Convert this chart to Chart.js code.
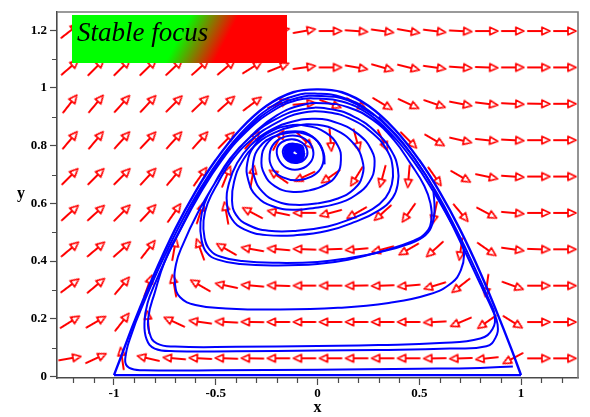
<!DOCTYPE html>
<html>
<head>
<meta charset="utf-8">
<title>Stable focus</title>
<script src="https://cdn.jsdelivr.net/npm/chart.js@4/dist/chart.umd.min.js"></script>
<style>
  html, body { margin: 0; padding: 0; background: #ffffff; }
  canvas { display: block; }
</style>
</head>
<body>
<canvas id="phase" width="590" height="417"></canvas>
<script>
// ---------- direction field grid ----------
const fieldX = [-1.216, -1.088, -0.96, -0.832, -0.704, -0.576, -0.448, -0.32, -0.192, -0.064,
                 0.064, 0.192, 0.32, 0.448, 0.576, 0.704, 0.832, 0.96, 1.088, 1.216];
const fieldY = [0.063, 0.189, 0.315, 0.441, 0.567, 0.693, 0.819, 0.945, 1.071, 1.197];

// arrow directions in degrees (0 = right, 90 = up), one row per fieldY value
const fieldAngles = [
  [10, 25, 98, 167, 175, 177, 178, 179, 180, 180, 180, 180, 180, 180, 181, 182, 186, 208, 0, 0],
  [32, 30, 52, 95, 155, 172, 177, 179, 180, 180, 180, 180, 180, 180, 183, 203, 215, -32, 0, 0],
  [37, 40, 50, 70, 100, 150, 168, 175, 178, 180, 180, 181, 182, 185, 197, 218, 262, -20, 0, 0],
  [40, 40, 42, 52, 80, 110, 150, 170, 175, 178, 182, 185, 195, 210, 222, 262, -35, -8, -2, 0],
  [42, 42, 45, 47, 55, 72, 100, 152, 168, 180, 195, 210, 222, 235, 258, -50, -28, -5, 0, 0],
  [45, 45, 45, 47, 50, 55, 68, 80, 145, 205, 215, 238, 255, 265, -55, -30, -12, -4, 0, 0],
  [50, 50, 48, 47, 48, 48, 46, 50, 62, -45, -85, -75, -65, -45, -30, -13, -6, -3, 0, 0],
  [52, 50, 48, 47, 45, 44, 42, 37, 22, 5, -20, -30, -31, -25, -19, -11, -7, -3, -1, 0],
  [41, 45, 45, 44, 43, 42, 40, 32, 22, 8, 0, -10, -16, -14, -8, -4, -2, 0, 0, 0],
  [38, 38, 36, 34, 32, 30, 26, 20, 12, 10, 0, -4, -8, -10, -7, -3, 0, 0, 0, 0]
];

// ---------- trajectories ----------
// bottom edge of the invariant region
const edgeBottom = [[1.0, 0.005], [-1.0, 0.005]];
// arch joining the two saddles
const edgeArch = [
  [-1.0, 0.005], [-0.97, 0.06], [-0.9, 0.19], [-0.816, 0.333], [-0.7, 0.51], [-0.6, 0.64],
  [-0.5, 0.75], [-0.38, 0.856], [-0.25, 0.938], [-0.12, 0.985], [0.0, 0.995], [0.12, 0.985],
  [0.25, 0.938], [0.38, 0.856], [0.5, 0.75], [0.6, 0.64], [0.7, 0.51], [0.8, 0.36],
  [0.884, 0.218], [0.95, 0.1], [1.0, 0.005]
];
// long orbit spiralling into the focus
const orbitMain = [
  [0.96, 0.035], [0.8, 0.03], [0.5, 0.027], [0.0, 0.024], [-0.5, 0.022], [-0.85, 0.022], [-0.925, 0.03], [-0.945, 0.06],
  [-0.91, 0.155], [-0.85, 0.262], [-0.78, 0.375], [-0.68, 0.52], [-0.575, 0.652], [-0.47, 0.763], [-0.35, 0.862],
  [-0.23, 0.933], [-0.11, 0.973], [0.0, 0.98], [0.12, 0.968], [0.25, 0.922], [0.37, 0.846], [0.48, 0.752],
  [0.585, 0.638], [0.685, 0.505], [0.77, 0.38], [0.845, 0.262], [0.87, 0.215],
  [0.86, 0.165], [0.8, 0.132], [0.6, 0.116], [0.3, 0.109], [0.0, 0.106], [-0.4, 0.103], [-0.7, 0.104],
  [-0.79, 0.115], [-0.825, 0.15], [-0.83, 0.21], [-0.8, 0.29],
  [-0.75, 0.4], [-0.68, 0.5], [-0.58, 0.63], [-0.47, 0.75], [-0.35, 0.848], [-0.22, 0.92], [-0.1, 0.958],
  [0.0, 0.963], [0.12, 0.953], [0.25, 0.91], [0.365, 0.838], [0.47, 0.748], [0.57, 0.64], [0.655, 0.535],
  [0.705, 0.47], [0.72, 0.42], [0.705, 0.37], [0.66, 0.325], [0.55, 0.285], [0.35, 0.255], [0.1, 0.238],
  [-0.2, 0.232], [-0.45, 0.236], [-0.6, 0.248], [-0.675, 0.275], [-0.7, 0.32], [-0.695, 0.39], [-0.66, 0.46],
  [-0.59, 0.565], [-0.5, 0.675], [-0.41, 0.77], [-0.31, 0.845], [-0.2, 0.905], [-0.08, 0.94], [0.03, 0.947],
  [0.15, 0.933], [0.27, 0.89], [0.375, 0.82], [0.46, 0.735], [0.525, 0.66],
  [0.555, 0.6], [0.56, 0.545], [0.535, 0.5], [0.47, 0.47], [0.32, 0.435], [0.15, 0.405], [0.0, 0.39],
  [-0.2, 0.385], [-0.38, 0.39], [-0.49, 0.405], [-0.545, 0.43], [-0.57, 0.475], [-0.575, 0.535], [-0.555, 0.6],
  [-0.505, 0.67], [-0.43, 0.755], [-0.33, 0.83], [-0.21, 0.89], [-0.08, 0.925], [0.05, 0.928], [0.18, 0.9],
  [0.29, 0.845], [0.365, 0.78], [0.395, 0.72],
  [0.395, 0.67], [0.37, 0.62], [0.3, 0.575], [0.18, 0.535], [0.05, 0.505], [-0.1, 0.49], [-0.25, 0.49],
  [-0.36, 0.51], [-0.42, 0.545], [-0.445, 0.6], [-0.435, 0.67], [-0.395, 0.74], [-0.33, 0.8], [-0.24, 0.85],
  [-0.13, 0.882], [-0.01, 0.893], [0.1, 0.878], [0.2, 0.84], [0.265, 0.785],
  [0.28, 0.73], [0.255, 0.675], [0.19, 0.63], [0.1, 0.6], [-0.01, 0.585], [-0.12, 0.578], [-0.22, 0.59],
  [-0.3, 0.625], [-0.34, 0.68], [-0.345, 0.74], [-0.31, 0.8], [-0.24, 0.845], [-0.15, 0.868], [-0.05, 0.868],
  [0.04, 0.845], [0.1, 0.8], [0.115, 0.75],
  [0.095, 0.7], [0.04, 0.665], [-0.04, 0.645], [-0.13, 0.64], [-0.21, 0.66], [-0.26, 0.7], [-0.275, 0.755],
  [-0.25, 0.805], [-0.19, 0.838], [-0.11, 0.85], [-0.04, 0.838], [0.01, 0.805], [0.03, 0.76],
  [0.015, 0.72], [-0.03, 0.693], [-0.1, 0.68], [-0.17, 0.69], [-0.22, 0.72], [-0.235, 0.77], [-0.21, 0.81],
  [-0.155, 0.832], [-0.09, 0.832], [-0.04, 0.81], [-0.02, 0.775],
  [-0.035, 0.742], [-0.08, 0.72], [-0.14, 0.72], [-0.185, 0.745], [-0.2, 0.785], [-0.175, 0.812],
  [-0.125, 0.822], [-0.075, 0.81], [-0.05, 0.782],
  [-0.06, 0.755], [-0.1, 0.74], [-0.145, 0.747], [-0.17, 0.775], [-0.155, 0.8], [-0.115, 0.807],
  [-0.08, 0.795], [-0.065, 0.775]
];
// tight turns right at the focus
const focusCore = [
  [-0.065, 0.775], [-0.075, 0.753], [-0.11, 0.745], [-0.145, 0.752], [-0.16, 0.775], [-0.148, 0.797],
  [-0.11, 0.805], [-0.075, 0.797], [-0.07, 0.775], [-0.08, 0.757], [-0.11, 0.751], [-0.14, 0.757],
  [-0.152, 0.775], [-0.14, 0.793], [-0.11, 0.8], [-0.08, 0.793], [-0.076, 0.775], [-0.087, 0.76],
  [-0.11, 0.756], [-0.133, 0.761], [-0.143, 0.775], [-0.133, 0.789], [-0.11, 0.794], [-0.087, 0.789],
  [-0.083, 0.775], [-0.092, 0.764], [-0.11, 0.761], [-0.127, 0.765], [-0.134, 0.775], [-0.127, 0.785],
  [-0.11, 0.789], [-0.093, 0.785], [-0.09, 0.775], [-0.098, 0.767], [-0.11, 0.766], [-0.121, 0.769],
  [-0.125, 0.775], [-0.12, 0.782], [-0.11, 0.784], [-0.1, 0.78], [-0.105, 0.775]
];
// orbit hugging the lower edge
const orbitLow = [
  [0.3, 0.9], [0.42, 0.81], [0.53, 0.7], [0.63, 0.57], [0.72, 0.44], [0.8, 0.32], [0.86, 0.23], [0.885, 0.18],
  [0.875, 0.135], [0.83, 0.105], [0.65, 0.097], [0.3, 0.092], [0.0, 0.09], [-0.4, 0.088], [-0.7, 0.088],
  [-0.8, 0.097], [-0.84, 0.13], [-0.85, 0.19], [-0.835, 0.255], [-0.8, 0.32], [-0.74, 0.415], [-0.66, 0.53],
  [-0.57, 0.65], [-0.46, 0.768], [-0.345, 0.858], [-0.225, 0.926], [-0.1, 0.965], [0.02, 0.972], [0.15, 0.957],
  [0.28, 0.905]
];
// inner orbit
const orbitInner = [
  [0.57, 0.64], [0.575, 0.58], [0.565, 0.53], [0.53, 0.49], [0.45, 0.46], [0.3, 0.43], [0.15, 0.41],
  [0.0, 0.397], [-0.2, 0.394], [-0.37, 0.4], [-0.475, 0.415], [-0.53, 0.44], [-0.555, 0.48], [-0.56, 0.54],
  [-0.54, 0.6], [-0.49, 0.67], [-0.42, 0.75], [-0.32, 0.823], [-0.2, 0.88], [-0.08, 0.913], [0.05, 0.916],
  [0.17, 0.89], [0.275, 0.84], [0.345, 0.78], [0.37, 0.72], [0.365, 0.665], [0.335, 0.62], [0.27, 0.58],
  [0.16, 0.545], [0.05, 0.52], [-0.1, 0.505], [-0.24, 0.505], [-0.34, 0.525], [-0.4, 0.56], [-0.42, 0.61],
  [-0.41, 0.675], [-0.37, 0.745], [-0.3, 0.805], [-0.21, 0.845], [-0.11, 0.868], [0.0, 0.872], [0.1, 0.85],
  [0.18, 0.805], [0.22, 0.75], [0.22, 0.695], [0.18, 0.65], [0.1, 0.617], [0.0, 0.6], [-0.11, 0.595],
  [-0.2, 0.607], [-0.27, 0.64], [-0.31, 0.69], [-0.315, 0.745], [-0.285, 0.795], [-0.22, 0.83], [-0.14, 0.845],
  [-0.06, 0.84], [0.0, 0.815], [0.03, 0.775], [0.035, 0.735]
];

// ---------- axes ----------
const xTickValues = [-1, -0.5, 0, 0.5, 1];
const xTickLabels = ['-1', '-0.5', '0', '0.5', '1'];
const xMinorTicks = [-1.2, -1.1, -0.9, -0.8, -0.7, -0.6, -0.4, -0.3, -0.2, -0.1,
                     0.1, 0.2, 0.3, 0.4, 0.6, 0.7, 0.8, 0.9, 1.1, 1.2];
const yTickValues = [0, 0.2, 0.4, 0.6, 0.8, 1, 1.2];
const yTickLabels = ['0', '0.2', '0.4', '0.6', '0.8', '1', '1.2'];
const yMinorTicks = [0.1, 0.3, 0.5, 0.7, 0.9, 1.1];

const titleText = 'Stable focus';
const axisColor = '#4a4a4a';
const frameColor = '#7a7a7a';
const orbitColor = '#0000ff';
const arrowColor = '#ff0000';

// arrow glyph pointing right, centred on its canvas
function makeArrowGlyph() {
  const c = document.createElement('canvas');
  c.width = 28; c.height = 28;
  const g = c.getContext('2d');
  g.translate(14, 14);
  g.strokeStyle = arrowColor;
  g.lineCap = 'round';
  g.lineWidth = 2;
  g.beginPath(); g.moveTo(-11, 0); g.lineTo(3, 0); g.stroke();
  g.beginPath(); g.moveTo(11, 0); g.lineTo(3, -3.8); g.lineTo(3, 3.8); g.closePath();
  g.fillStyle = '#ffffff'; g.fill();
  g.lineWidth = 1.7; g.lineJoin = 'round'; g.stroke();
  return c;
}
const arrowGlyph = makeArrowGlyph();

const fieldPoints = [];
fieldY.forEach((yv, j) => {
  fieldX.forEach((xv, i) => {
    fieldPoints.push({ x: xv, y: yv, a: fieldAngles[j][i] });
  });
});

const toXY = arr => arr.map(p => ({ x: p[0], y: p[1] }));

function orbitSet(arr, width, tension) {
  return {
    type: 'scatter', data: toXY(arr), showLine: true, borderColor: orbitColor,
    borderWidth: width, pointRadius: 0, tension: tension, fill: false, order: 1
  };
}

const decorations = {
  id: 'decorations',
  afterDraw(chart) {
    const { ctx, chartArea: a, scales: { x, y } } = chart;
    ctx.save();
    // minor ticks
    ctx.strokeStyle = axisColor;
    ctx.lineWidth = 1.2;
    ctx.beginPath();
    xMinorTicks.forEach(v => {
      const px = Math.round(x.getPixelForValue(v)) + 0.5;
      ctx.moveTo(px, a.bottom); ctx.lineTo(px, a.bottom + 5);
    });
    yMinorTicks.forEach(v => {
      const py = Math.round(y.getPixelForValue(v)) + 0.5;
      ctx.moveTo(a.left - 5, py); ctx.lineTo(a.left, py);
    });
    ctx.stroke();
    // frame on top and right
    ctx.strokeStyle = frameColor;
    ctx.lineWidth = 1.6;
    ctx.beginPath();
    ctx.moveTo(a.left, a.top); ctx.lineTo(a.right, a.top); ctx.lineTo(a.right, a.bottom);
    ctx.stroke();
    // y axis name, kept upright
    ctx.fillStyle = '#000';
    ctx.font = 'bold 16px "Liberation Serif", "DejaVu Serif", serif';
    ctx.textAlign = 'center';
    ctx.textBaseline = 'alphabetic';
    ctx.fillText('y', 21, y.getPixelForValue(0.618));
    // caption box
    const bx = a.left + 15, by = a.top + 3, bw = 215, bh = 48;
    const grad = ctx.createLinearGradient(bx + 110, by + 16, bx + 148, by + 36);
    grad.addColorStop(0, '#00ff00');
    grad.addColorStop(1, '#ff0000');
    ctx.fillStyle = grad;
    ctx.fillRect(bx, by, bw, bh);
    ctx.fillStyle = '#000';
    ctx.font = 'italic 27px "Liberation Serif", "DejaVu Serif", serif';
    ctx.textAlign = 'left';
    ctx.fillText(titleText, bx + 5, by + 26);
    ctx.restore();
  }
};

const tickFont = { family: '"Liberation Serif", "DejaVu Serif", serif', size: 13, weight: 'bold' };

new Chart(document.getElementById('phase'), {
  type: 'scatter',
  data: {
    datasets: [
      orbitSet(edgeBottom, 2.2, 0),
      orbitSet(edgeArch, 2.4, 0.4),
      orbitSet(orbitMain, 2, 0.45),
      orbitSet(focusCore, 2.6, 0.45),
      orbitSet(orbitLow, 2, 0.45),
      orbitSet(orbitInner, 2, 0.45),
      {
        type: 'scatter', data: fieldPoints, order: 10,
        pointStyle: arrowGlyph, pointRadius: 11,
        rotation: ctx => (ctx.raw ? -ctx.raw.a : 0)
      }
    ]
  },
  options: {
    responsive: false,
    animation: false,
    devicePixelRatio: 1,
    events: [],
    layout: { padding: { top: 4, right: 3, left: 0, bottom: 0 } },
    plugins: { legend: { display: false }, tooltip: { enabled: false } },
    scales: {
      x: {
        type: 'linear', min: -1.28, max: 1.28, position: 'bottom',
        afterFit: s => { s.height = 39; },
        afterBuildTicks: s => { s.ticks = xTickValues.map(v => ({ value: v })); },
        ticks: {
          callback: (v, i) => xTickLabels[i], font: tickFont, color: '#000',
          padding: 1, maxRotation: 0, autoSkip: false
        },
        grid: { drawOnChartArea: false, tickLength: 7, tickColor: axisColor, tickWidth: 1.2 },
        border: { color: axisColor, width: 1.6 },
        title: {
          display: true, text: 'x', color: '#000',
          font: { family: '"Liberation Serif", "DejaVu Serif", serif', size: 16, weight: 'bold' },
          padding: { top: 0, bottom: 0 }
        }
      },
      y: {
        type: 'linear', min: -0.005, max: 1.263,
        afterFit: s => { s.width = 57; },
        afterBuildTicks: s => { s.ticks = yTickValues.map(v => ({ value: v })); },
        ticks: {
          callback: (v, i) => yTickLabels[i], font: tickFont, color: '#000', padding: 3
        },
        grid: { drawOnChartArea: false, tickLength: 7, tickColor: axisColor, tickWidth: 1.2 },
        border: { color: axisColor, width: 1.6 }
      }
    }
  },
  plugins: [decorations]
});
</script>
</body>
</html>
